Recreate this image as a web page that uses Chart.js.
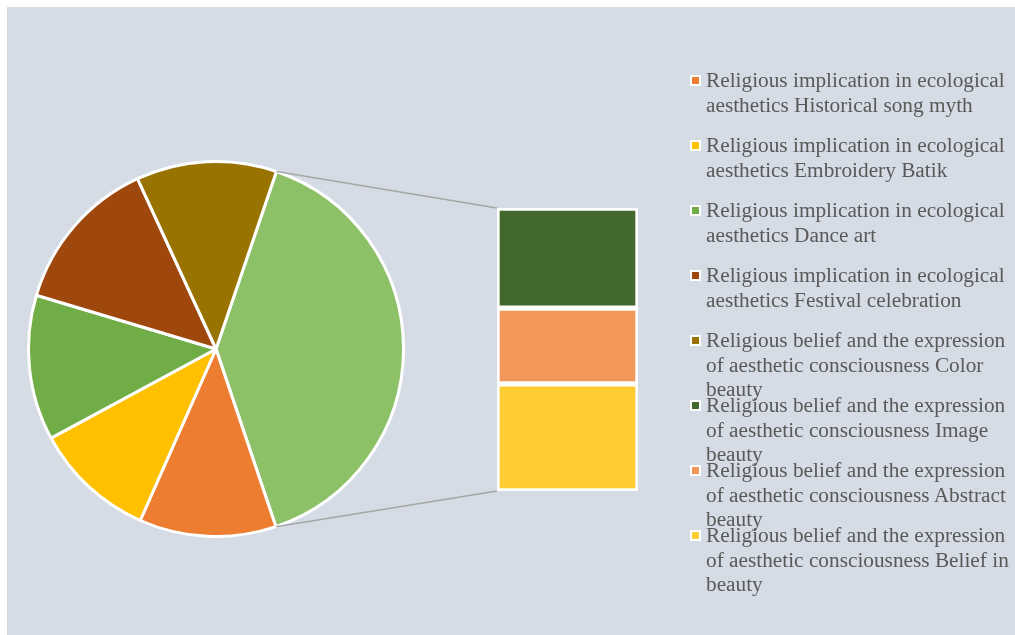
<!DOCTYPE html>
<html>
<head>
<meta charset="utf-8">
<script src="https://cdn.jsdelivr.net/npm/chart.js@4.4.1/dist/chart.umd.min.js"></script>
<style>
  html, body { margin: 0; padding: 0; background: #fff; }
  #frame { position: absolute; left: 7px; top: 7px; width: 1008px; height: 628px; background: #D6DCE5; }
  #pieBox { position: absolute; left: 21px; top: 154px; width: 390px; height: 390px; }
  #barBox { position: absolute; left: 494px; top: 205px; width: 147px; height: 289px; }
  #lines { position: absolute; left: 0; top: 0; pointer-events: none; }
  .leg { position: absolute; left: 706px; width: 306px; font-family: "Liberation Serif", "Times New Roman", serif;
         font-size: 21.3px; line-height: 24.5px; color: #595959; }
  .leg .box { position: absolute; left: -16px; top: 7px; width: 7px; height: 7px; border: 2px solid #fff; }
</style>
</head>
<body>
<div id="frame"></div>
<div id="pieBox"><canvas id="pieChart"></canvas></div>
<div id="barBox"><canvas id="barChart"></canvas></div>
<canvas id="lines" width="1015" height="635"></canvas>
<div id="legend"></div>
<script>
// ===================================
// BAR OF PIE - religious aesthetics
// ===================================

// slices that stay in the pie (clockwise after the "other" slice)
const pieLabels = [
    'Religious implication in ecological aesthetics Historical song myth',
    'Religious implication in ecological aesthetics Embroidery Batik',
    'Religious implication in ecological aesthetics Dance art',
    'Religious implication in ecological aesthetics Festival celebration',
    'Religious belief and the expression of aesthetic consciousness Color beauty'
];
const pieValues = [11.8, 10.5, 12.5, 13.5, 12.1];
const pieColors = ['#ED7D31', '#FFC000', '#70AD47', '#9E480E', '#997300'];

// slices split out into the bar (top to bottom)
const barLabels = [
    'Religious belief and the expression of aesthetic consciousness Image beauty',
    'Religious belief and the expression of aesthetic consciousness Abstract beauty',
    'Religious belief and the expression of aesthetic consciousness Belief in beauty'
];
const barValues = [14.0, 10.6, 15.0];
const barColors = ['#43682B', '#F1975A', '#FFCD33'];

const otherColor = '#8CC168';
const otherTotal = barValues.reduce((a, b) => a + b, 0);

// pie: "other" slice first, centred on the right side
const pieChart = new Chart(document.getElementById('pieChart'), {
    type: 'pie',
    data: {
        labels: ['Other'].concat(pieLabels),
        datasets: [{
            data: [otherTotal].concat(pieValues),
            backgroundColor: [otherColor].concat(pieColors),
            borderColor: '#ffffff',
            borderWidth: 3
        }]
    },
    options: {
        animation: false,
        responsive: true,
        maintainAspectRatio: false,
        rotation: 18.8,
        layout: { padding: 6 },
        plugins: { legend: { display: false }, tooltip: { enabled: false } }
    }
});

// stacked bar: datasets go bottom-up, so reverse the list
const barSets = barValues.map((v, i) => ({
    label: barLabels[i],
    data: [v],
    backgroundColor: barColors[i],
    borderColor: '#ffffff',
    borderWidth: 3,
    borderSkipped: false
})).reverse();

const barChart = new Chart(document.getElementById('barChart'), {
    type: 'bar',
    data: { labels: [''], datasets: barSets },
    options: {
        animation: false,
        responsive: true,
        maintainAspectRatio: false,
        layout: { padding: 3 },
        datasets: { bar: { barPercentage: 1, categoryPercentage: 1 } },
        scales: {
            x: { stacked: true, display: false },
            y: { stacked: true, display: false, min: 0, max: otherTotal }
        },
        plugins: { legend: { display: false }, tooltip: { enabled: false } }
    }
});

// connector lines from the "other" slice edges to the bar corners
function drawConnectors() {
    const ctx = document.getElementById('lines').getContext('2d');
    const pieRect = document.getElementById('pieChart').getBoundingClientRect();
    const barRect = document.getElementById('barChart').getBoundingClientRect();
    const arc = pieChart.getDatasetMeta(0).data[0];
    const topBar = barChart.getDatasetMeta(barSets.length - 1).data[0];
    const botBar = barChart.getDatasetMeta(0).data[0];

    const p1 = {
        x: pieRect.left + arc.x + Math.cos(arc.startAngle) * arc.outerRadius,
        y: pieRect.top + arc.y + Math.sin(arc.startAngle) * arc.outerRadius
    };
    const p2 = {
        x: pieRect.left + arc.x + Math.cos(arc.endAngle) * arc.outerRadius,
        y: pieRect.top + arc.y + Math.sin(arc.endAngle) * arc.outerRadius
    };
    const leftX = barRect.left + topBar.x - topBar.width / 2;
    const q1 = { x: leftX, y: barRect.top + topBar.y };
    const q2 = { x: leftX, y: barRect.top + botBar.base };

    ctx.strokeStyle = '#A6A6A6';
    ctx.lineWidth = 1.5;
    ctx.beginPath();
    ctx.moveTo(p1.x, p1.y); ctx.lineTo(q1.x, q1.y);
    ctx.moveTo(p2.x, p2.y); ctx.lineTo(q2.x, q2.y);
    ctx.stroke();
}
drawConnectors();

// legend (html so long names can wrap)
const legLabels = pieLabels.concat(barLabels);
const legColors = pieColors.concat(barColors);
const legend = document.getElementById('legend');
legLabels.forEach((name, i) => {
    const div = document.createElement('div');
    div.className = 'leg';
    div.style.top = (68 + i * 65) + 'px';
    div.innerHTML = '<span class="box" style="background:' + legColors[i] + '"></span>' + name;
    legend.appendChild(div);
});
</script>
</body>
</html>
